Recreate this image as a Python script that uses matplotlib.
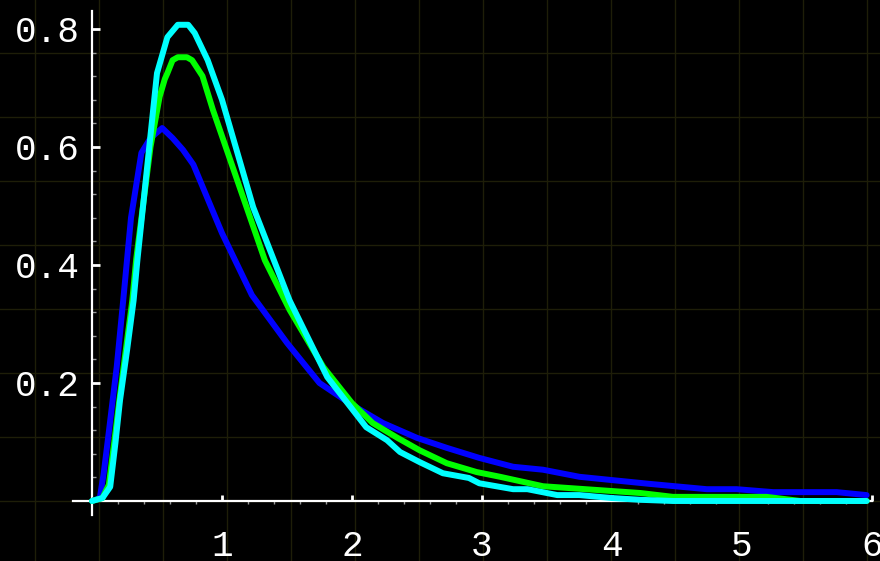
import numpy as np
import matplotlib
matplotlib.use("Agg")
import matplotlib.pyplot as plt
from matplotlib.ticker import FixedLocator

# curve values
blue_x = [0, 0.06, 0.09, 0.12, 0.19, 0.24, 0.30, 0.38, 0.45, 0.54, 0.62, 0.70, 0.78,
          1.0, 1.23, 1.5, 1.75, 2.0, 2.24, 2.5, 2.73, 2.98, 3.24, 3.47, 3.75, 4.29,
          4.73, 4.96, 5.24, 5.73, 5.96]
blue_y = [0, 0.005, 0.047, 0.10, 0.227, 0.34, 0.48, 0.59, 0.615, 0.632, 0.615, 0.595, 0.57,
          0.454, 0.349, 0.268, 0.20, 0.163, 0.132, 0.107, 0.09, 0.073, 0.058, 0.053, 0.041, 0.029,
          0.020, 0.020, 0.015, 0.015, 0.010]

green_x = [0, 0.08, 0.13, 0.17, 0.21, 0.26, 0.31, 0.34, 0.45, 0.52, 0.56, 0.58, 0.62, 0.66,
           0.73, 0.77, 0.85, 0.93, 1.09, 1.33, 1.52, 1.78, 2.0, 2.16, 2.35, 2.52, 2.73,
           2.96, 3.14, 3.47, 4.22, 4.47, 5.19, 5.45, 5.96]
green_y = [0, 0.005, 0.028, 0.098, 0.17, 0.256, 0.34, 0.41, 0.60, 0.685, 0.715, 0.725, 0.747, 0.752,
           0.752, 0.747, 0.72, 0.663, 0.561, 0.408, 0.324, 0.227, 0.166, 0.132, 0.107, 0.086, 0.064,
           0.049, 0.041, 0.025, 0.0135, 0.007, 0.007, 0.0, 0.0]

cyan_x = [0, 0.08, 0.14, 0.18, 0.215, 0.27, 0.32, 0.35, 0.50, 0.58, 0.66, 0.74, 0.79, 0.89,
          1.0, 1.24, 1.52, 1.81, 2.11, 2.27, 2.37, 2.52, 2.7, 2.9, 2.98,
          3.24, 3.35, 3.58, 3.75, 4.0, 4.22, 4.47, 5.96]
cyan_y = [0, 0.005, 0.024, 0.098, 0.17, 0.256, 0.34, 0.41, 0.725, 0.786, 0.807, 0.807, 0.793, 0.747,
          0.68, 0.498, 0.34, 0.21, 0.125, 0.103, 0.083, 0.066, 0.047, 0.039, 0.03,
          0.02, 0.02, 0.01, 0.01, 0.005, 0.002, 0.0, 0.0]

x_ticks = [1, 2, 3, 4, 5, 6]
y_ticks = [0.2, 0.4, 0.6, 0.8]

fig = plt.figure(figsize=(8.8, 5.61), dpi=100, facecolor="black")
ax = fig.add_axes([0, 0, 1, 1])
ax.set_facecolor("black")
ax.set_xlim(-0.708, 6.063)
ax.set_ylim(-0.1017, 0.849)

# faint background grid (square, 64 px)
for k in range(-2, 14):
    ax.axvline(0.054 + k * 0.4923, color="#1e1e08", lw=1, zorder=0)
for k in range(-1, 9):
    ax.axhline(k * 0.1085, color="#1e1e08", lw=1, zorder=0)

lw = 4.3
ax.plot(blue_x, blue_y, color="#0000ff", lw=lw, solid_capstyle="round", solid_joinstyle="round", zorder=3)
ax.plot(green_x, green_y, color="#00ff00", lw=lw, solid_capstyle="round", solid_joinstyle="round", zorder=4)
ax.plot(cyan_x, cyan_y, color="#00ffff", lw=lw, solid_capstyle="round", solid_joinstyle="round", zorder=5)

for s in ["top", "right"]:
    ax.spines[s].set_visible(False)
ax.spines["left"].set_position(("data", 0))
ax.spines["bottom"].set_position(("data", 0))
ax.spines["left"].set_bounds(-0.024, 0.83)
ax.spines["bottom"].set_bounds(-0.15, 6.0)
for s in ["left", "bottom"]:
    ax.spines[s].set_color("white")
    ax.spines[s].set_linewidth(1.6)
    ax.spines[s].set_zorder(2)

ax.xaxis.set_major_locator(FixedLocator(x_ticks))
ax.yaxis.set_major_locator(FixedLocator(y_ticks))
ax.xaxis.set_minor_locator(FixedLocator([i * 0.2 for i in range(1, 30)]))
ax.yaxis.set_minor_locator(FixedLocator([i * 0.04 for i in range(1, 21)]))
ax.set_xticklabels([str(v) for v in x_ticks])
ax.set_yticklabels(["%.1f" % v for v in y_ticks])

ax.tick_params(axis="x", which="major", direction="in", length=4, width=2,
               color="white", pad=20, labelsize=26, labelcolor="white")
ax.tick_params(axis="x", which="minor", direction="out", length=2, width=1, color="#999999")
ax.tick_params(axis="y", which="major", direction="in", length=6, width=2,
               color="white", pad=9, labelsize=26, labelcolor="white")
ax.tick_params(axis="y", which="minor", direction="in", length=3, width=1, color="#999999")
for lab in ax.get_xticklabels() + ax.get_yticklabels():
    lab.set_family("Liberation Mono")

fig.savefig("out.png", dpi=100, facecolor="black")
